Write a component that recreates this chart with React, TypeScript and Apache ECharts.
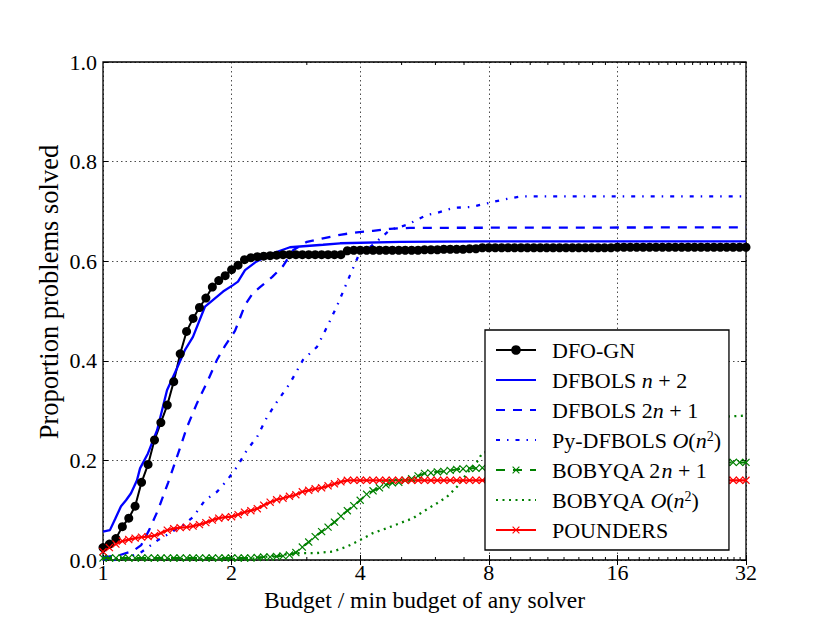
import { useEffect, useRef } from 'react';
import * as echarts from 'echarts';

const FONT = 'Liberation Serif';

// Shared budget grid for the marker series (budget / min budget)
const budgets = [
  1.000, 1.035, 1.072, 1.110, 1.149, 1.189, 1.231, 1.275, 1.320, 1.366,
  1.414, 1.464, 1.516, 1.569, 1.625, 1.682, 1.741, 1.803, 1.866, 1.932,
  2.000, 2.071, 2.144, 2.219, 2.297, 2.378, 2.462, 2.549, 2.639, 2.732,
  2.828, 2.928, 3.031, 3.138, 3.249, 3.364, 3.482, 3.605, 3.732, 3.864,
  4.000, 4.141, 4.287, 4.438, 4.595, 4.757, 4.925, 5.098, 5.278, 5.464,
  5.657, 5.856, 6.063, 6.277, 6.498, 6.727, 6.964, 7.210, 7.464, 7.727,
  8.000, 8.282, 8.574, 8.877, 9.190, 9.514, 9.849, 10.196, 10.556, 10.928,
  11.314, 11.713, 12.126, 12.553, 12.996, 13.454, 13.929, 14.420, 14.929, 15.455,
  16.000, 16.564, 17.148, 17.754, 18.379, 19.027, 19.698, 20.393, 21.112, 21.857,
  22.627, 23.425, 24.251, 25.107, 25.992, 26.909, 27.858, 28.840, 29.857, 30.910,
  32.000,
];

const dfoGn = [
  0.025, 0.032, 0.043, 0.067, 0.084, 0.108, 0.156, 0.192, 0.241, 0.276,
  0.311, 0.358, 0.414, 0.459, 0.485, 0.507, 0.526, 0.548, 0.561, 0.571,
  0.583, 0.592, 0.603, 0.607, 0.609, 0.610, 0.611, 0.612, 0.613, 0.613,
  0.613, 0.613, 0.613, 0.613, 0.613, 0.613, 0.613, 0.613, 0.621, 0.622,
  0.622, 0.622, 0.622, 0.622, 0.622, 0.622, 0.622, 0.622, 0.622, 0.622,
  0.623, 0.623, 0.623, 0.624, 0.624, 0.624, 0.624, 0.625, 0.625, 0.627,
  0.627, 0.627, 0.627, 0.627, 0.627, 0.627, 0.627, 0.627, 0.627, 0.627,
  0.627, 0.627, 0.627, 0.627, 0.627, 0.627, 0.627, 0.627, 0.627, 0.627,
  0.628, 0.628, 0.628, 0.628, 0.628, 0.628, 0.628, 0.628, 0.628, 0.628,
  0.628, 0.628, 0.628, 0.628, 0.628, 0.628, 0.628, 0.628, 0.628, 0.628,
  0.628,
];

const bobyqa2n1 = [
  0.004, 0.004, 0.004, 0.004, 0.004, 0.004, 0.004, 0.004, 0.004, 0.004,
  0.004, 0.004, 0.004, 0.004, 0.004, 0.004, 0.004, 0.004, 0.004, 0.004,
  0.004, 0.004, 0.004, 0.004, 0.005, 0.006, 0.006, 0.007, 0.008, 0.010,
  0.015, 0.026, 0.036, 0.047, 0.057, 0.066, 0.076, 0.088, 0.099, 0.109,
  0.120, 0.132, 0.139, 0.145, 0.151, 0.155, 0.156, 0.160, 0.163, 0.169,
  0.174, 0.175, 0.177, 0.178, 0.180, 0.182, 0.183, 0.184, 0.184, 0.185,
  0.186, 0.186, 0.187, 0.187, 0.188, 0.188, 0.188, 0.189, 0.189, 0.190,
  0.190, 0.190, 0.191, 0.191, 0.192, 0.192, 0.192, 0.193, 0.193, 0.193,
  0.194, 0.194, 0.194, 0.194, 0.195, 0.195, 0.195, 0.195, 0.195, 0.195,
  0.196, 0.196, 0.196, 0.196, 0.196, 0.196, 0.196, 0.196, 0.196, 0.196,
  0.196,
];

const pounders = [
  0.017, 0.025, 0.032, 0.038, 0.041, 0.044, 0.046, 0.047, 0.049, 0.054,
  0.060, 0.063, 0.065, 0.066, 0.068, 0.071, 0.075, 0.080, 0.084, 0.086,
  0.087, 0.091, 0.096, 0.099, 0.103, 0.110, 0.116, 0.121, 0.124, 0.128,
  0.131, 0.137, 0.140, 0.143, 0.145, 0.149, 0.153, 0.157, 0.160, 0.160,
  0.160, 0.160, 0.160, 0.160, 0.160, 0.160, 0.160, 0.160, 0.160, 0.160,
  0.160, 0.160, 0.160, 0.160, 0.160, 0.160, 0.160, 0.160, 0.160, 0.160,
  0.160, 0.160, 0.160, 0.160, 0.160, 0.160, 0.160, 0.160, 0.160, 0.160,
  0.160, 0.160, 0.160, 0.160, 0.160, 0.160, 0.160, 0.160, 0.160, 0.160,
  0.160, 0.160, 0.160, 0.160, 0.160, 0.160, 0.160, 0.160, 0.160, 0.160,
  0.160, 0.160, 0.160, 0.160, 0.160, 0.160, 0.160, 0.160, 0.160, 0.160,
  0.160,
];

// [budget, proportion] pairs for the lines without markers
const dfbolsNp2: [number, number][] = [
  [1.000, 0.057], [1.038, 0.060], [1.067, 0.082], [1.102, 0.108], [1.132, 0.120],
  [1.163, 0.134], [1.201, 0.160], [1.221, 0.184], [1.274, 0.214], [1.339, 0.261],
  [1.412, 0.341], [1.490, 0.385], [1.556, 0.422], [1.624, 0.448], [1.733, 0.509],
  [1.910, 0.539], [2.015, 0.552], [2.070, 0.559], [2.150, 0.582], [2.284, 0.599],
  [2.500, 0.616], [2.739, 0.628], [3.274, 0.633], [3.590, 0.636], [4.961, 0.639],
  [7.640, 0.640], [32.000, 0.640],
];

const dfbols2np1: [number, number][] = [
  [1.000, 0.005], [1.096, 0.010], [1.175, 0.018], [1.229, 0.030], [1.282, 0.060],
  [1.345, 0.100], [1.420, 0.155], [1.490, 0.207], [1.573, 0.267], [1.660, 0.315],
  [1.761, 0.361], [1.849, 0.402], [1.930, 0.430], [2.037, 0.460], [2.150, 0.512],
  [2.244, 0.536], [2.331, 0.548], [2.487, 0.568], [2.638, 0.590], [2.785, 0.622],
  [3.003, 0.639], [3.274, 0.646], [3.587, 0.653], [3.932, 0.658], [4.285, 0.661],
  [4.697, 0.665], [5.232, 0.667], [32.000, 0.668],
];

const pyDfbols: [number, number][] = [
  [1.000, 0.000], [1.096, 0.000], [1.221, 0.014], [1.345, 0.040], [1.435, 0.054],
  [1.539, 0.070], [1.624, 0.086], [1.733, 0.120], [1.849, 0.137], [1.951, 0.160],
  [2.059, 0.187], [2.173, 0.221], [2.294, 0.247], [2.421, 0.287], [2.555, 0.318],
  [2.740, 0.355], [2.939, 0.402], [3.169, 0.428], [3.345, 0.468], [3.530, 0.510],
  [3.787, 0.572], [3.953, 0.609], [4.285, 0.633], [4.697, 0.663], [5.147, 0.673],
  [5.433, 0.683], [5.734, 0.693], [6.051, 0.697], [6.596, 0.707], [7.307, 0.709],
  [7.629, 0.713], [8.184, 0.719], [8.826, 0.725], [9.466, 0.730], [32.000, 0.730],
];

const bobyqaOn2: [number, number][] = [
  [1.000, 0.002], [2.209, 0.002], [2.394, 0.006], [2.596, 0.010], [2.892, 0.014],
  [3.169, 0.014], [3.455, 0.017], [3.726, 0.027], [3.996, 0.040], [4.285, 0.054],
  [4.622, 0.064], [4.958, 0.074], [5.317, 0.084], [5.611, 0.097], [6.051, 0.114],
  [6.386, 0.127], [6.740, 0.147], [7.114, 0.174], [7.508, 0.197], [7.713, 0.214],
  [9.466, 0.240], [13.080, 0.260], [19.070, 0.280], [32.000, 0.290],
];

const minorTickBudgets = [
  3, 5, 6, 7, 9, 10, 11, 12, 13, 14, 15,
  17, 18, 19, 20, 21, 22, 23, 24, 25, 26, 27, 28, 29, 30, 31,
];

const seriesNames = [
  'DFO-GN',
  'DFBOLS n + 2',
  'DFBOLS 2n + 1',
  'Py-DFBOLS O(n^2)',
  'BOBYQA 2n + 1',
  'BOBYQA O(n^2)',
  'POUNDERS',
];

const noMarker = ['DFBOLS n + 2', 'DFBOLS 2n + 1', 'Py-DFBOLS O(n^2)', 'BOBYQA O(n^2)'];

const legendRich: Record<string, string> = {
  'DFO-GN': 'DFO-GN',
  'DFBOLS n + 2': 'DFBOLS {i|n} + 2',
  'DFBOLS 2n + 1': 'DFBOLS 2{i|n} + 1',
  'Py-DFBOLS O(n^2)': 'Py-DFBOLS {i|O}({i|n}{s|2})',
  'BOBYQA 2n + 1': 'BOBYQA 2{i|n} + 1',
  'BOBYQA O(n^2)': 'BOBYQA {i|O}({i|n}{s|2})',
  'POUNDERS': 'POUNDERS',
};

const CROSS = 'path://M4.4,0H5.6V4.4H10V5.6H5.6V10H4.4V5.6H0V4.4H4.4Z';

export default function App() {
  const ref = useRef<HTMLDivElement>(null);

  useEffect(() => {
    document.body.style.margin = '0';
    if (!ref.current) return;
    const chart = echarts.init(ref.current, undefined, { renderer: 'svg' });

    const zip = (vals: number[]) => budgets.map((b, i) => [b, vals[i]]);
    const gridLine = { show: true, lineStyle: { color: '#000', width: 0.7, type: [1.5, 3] as number[] } };
    const tick = { show: true, inside: true, length: 5, lineStyle: { color: '#000', width: 1 } };

    const option: any = {
      animation: false,
      backgroundColor: '#fff',
      grid: {
        left: 103, right: 84, top: 62, bottom: 63,
        show: true, borderColor: '#000', borderWidth: 1.3, backgroundColor: 'transparent',
        containLabel: false, outerBoundsMode: 'none',
      },
      xAxis: [
        {
          type: 'log', logBase: 2, min: 1, max: 32, position: 'bottom',
          axisLine: { show: false },
          axisTick: tick,
          minorTick: { show: false },
          axisLabel: {
            margin: 1, color: '#000', fontFamily: FONT, fontSize: 22,
            formatter: (v: number) => String(Math.round(v)),
          },
          splitLine: gridLine,
          name: 'Budget / min budget of any solver',
          nameLocation: 'middle', nameGap: 26,
          nameTextStyle: { color: '#000', fontFamily: FONT, fontSize: 23.5 },
        },
        {
          type: 'log', logBase: 2, min: 1, max: 32, position: 'top',
          axisLine: { show: false }, axisTick: tick,
          axisLabel: { show: false }, splitLine: { show: false },
        },
      ],
      yAxis: [
        {
          type: 'value', min: 0, max: 1, interval: 0.2,
          axisLine: { show: false }, axisTick: tick,
          axisLabel: {
            margin: 6, color: '#000', fontFamily: FONT, fontSize: 22,
            formatter: (v: number) => v.toFixed(1),
          },
          splitLine: gridLine,
        },
        {
          type: 'value', min: 0, max: 1, interval: 0.2, position: 'right',
          axisLine: { show: false }, axisTick: tick,
          axisLabel: { show: false }, splitLine: { show: false },
        },
      ],
      legend: {
        orient: 'vertical', left: 485, top: 330,
        padding: [9, 8, 9, 10],
        itemWidth: 40, itemHeight: 12, itemGap: 8,
        backgroundColor: '#fff', borderColor: '#000', borderWidth: 1.3, borderRadius: 0,
        selectedMode: false,
        data: seriesNames.map((name) =>
          noMarker.includes(name) ? { name, itemStyle: { opacity: 0 } } : { name }
        ),
        formatter: (name: string) => legendRich[name] ?? name,
        textStyle: {
          color: '#000', fontFamily: FONT, fontSize: 22, lineHeight: 22,
          padding: [0, 0, 0, 11],
          rich: {
            i: { fontFamily: FONT, fontSize: 22, fontStyle: 'italic', color: '#000', lineHeight: 22 },
            s: { fontFamily: FONT, fontSize: 14, color: '#000', verticalAlign: 'top', lineHeight: 14 },
          },
        },
      },
      graphic: [
        {
          type: 'text', x: 49, y: 292, rotation: Math.PI / 2,
          style: {
            text: 'Proportion problems solved', fill: '#000',
            fontFamily: FONT, fontSize: 26.5,
            textAlign: 'center', textVerticalAlign: 'middle',
            align: 'center', verticalAlign: 'middle',
          },
        },
      ],
      series: [
        {
          name: seriesNames[0], type: 'line', data: zip(dfoGn),
          symbol: 'circle', symbolSize: 9, showAllSymbol: true,
          lineStyle: { color: '#000', width: 2 }, itemStyle: { color: '#000' },
          emphasis: { disabled: true },
        },
        {
          name: seriesNames[1], type: 'line', data: dfbolsNp2, symbol: 'none',
          lineStyle: { color: '#0000ff', width: 2.3 }, itemStyle: { color: '#0000ff' },
          emphasis: { disabled: true },
        },
        {
          name: seriesNames[2], type: 'line', data: dfbols2np1, symbol: 'none',
          lineStyle: { color: '#0000ff', width: 2.3, type: [9, 8] }, itemStyle: { color: '#0000ff' },
          emphasis: { disabled: true },
        },
        {
          name: seriesNames[3], type: 'line', data: pyDfbols, symbol: 'none',
          lineStyle: { color: '#0000ff', width: 2.3, type: [4, 7, 1.5, 7] }, itemStyle: { color: '#0000ff' },
          emphasis: { disabled: true },
        },
        {
          name: seriesNames[4], type: 'line', data: zip(bobyqa2n1),
          symbol: CROSS, symbolSize: 10, symbolRotate: 45, showAllSymbol: true,
          lineStyle: { color: '#008000', width: 2, type: [9, 8] }, itemStyle: { color: '#008000' },
          emphasis: { disabled: true },
        },
        {
          name: seriesNames[5], type: 'line', data: bobyqaOn2, symbol: 'none',
          lineStyle: { color: '#008000', width: 2.3, type: [2, 4.5] }, itemStyle: { color: '#008000' },
          emphasis: { disabled: true },
        },
        {
          name: seriesNames[6], type: 'line', data: zip(pounders),
          symbol: CROSS, symbolSize: 10, symbolRotate: 45, showAllSymbol: true,
          lineStyle: { color: '#ff0000', width: 2.3 }, itemStyle: { color: '#ff0000' },
          emphasis: { disabled: true },
        },
        {
          name: 'minor ticks', type: 'custom', silent: true, clip: false,
          data: minorTickBudgets.map((b) => [b, 0]),
          renderItem: (_params: any, api: any) => {
            const b = api.value(0);
            const bot = api.coord([b, 0]);
            const top = api.coord([b, 1]);
            return {
              type: 'group',
              children: [
                { type: 'line', shape: { x1: bot[0], y1: bot[1], x2: bot[0], y2: bot[1] - 3 }, style: { stroke: '#000', lineWidth: 1 } },
                { type: 'line', shape: { x1: top[0], y1: top[1], x2: top[0], y2: top[1] + 3 }, style: { stroke: '#000', lineWidth: 1 } },
              ],
            };
          },
        },
      ],
    };

    chart.setOption(option);
    return () => chart.dispose();
  }, []);

  return <div ref={ref} style={{ width: 830, height: 623 }} />;
}
